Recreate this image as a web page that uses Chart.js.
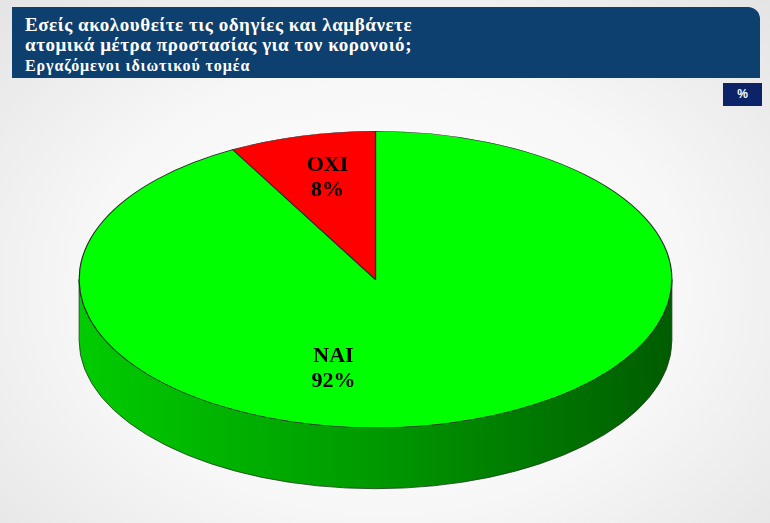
<!DOCTYPE html>
<html>
<head>
<meta charset="utf-8">
<script src="https://cdn.jsdelivr.net/npm/chart.js@4"></script>
<style>
  html, body { margin: 0; padding: 0; }
  body {
    width: 770px; height: 523px; position: relative; overflow: hidden;
    background: radial-gradient(ellipse at 50% 55%, #ffffff 0%, #f7f7f7 55%, #e4e4e4 100%);
    font-family: "Liberation Serif", "Times New Roman", serif;
  }
  #title {
    position: absolute; left: 12px; top: 7px; width: 748px; height: 71px;
    background: #0d3f6f; border-top-right-radius: 12px; box-sizing: border-box;
    padding: 8px 0 0 13px; color: #fff; font-weight: bold;
  }
  #title .l { font-size: 19px; line-height: 20px; letter-spacing: 0.55px; }
  #title .s { font-size: 16px; line-height: 22px; letter-spacing: 0.9px; }
  #pct {
    position: absolute; left: 723px; top: 83px; width: 39px; height: 23px;
    background: #0c2367; color: #fff; font: bold 12px "Liberation Sans", Arial, sans-serif;
    text-align: center; line-height: 23px;
  }
  #wrap { position: absolute; left: 0; top: 0; width: 770px; height: 523px; }
</style>
</head>
<body>
<div id="title">
  <div class="l">Εσείς ακολουθείτε τις οδηγίες και λαμβάνετε</div>
  <div class="l">ατομικά μέτρα προστασίας για τον κορονοιό;</div>
  <div class="s">Εργαζόμενοι ιδιωτικού τομέα</div>
</div>
<div id="pct">%</div>
<div id="wrap"><canvas id="pie"></canvas></div>
<script>
const labels = ["ΝΑΙ", "ΟΧΙ"];
const values = [92, 8];
const colors = ["#00ff00", "#ff0000"];

function shade(hex, f) {
  const n = parseInt(hex.slice(1), 16);
  const r = Math.round(((n >> 16) & 255) * f);
  const g = Math.round(((n >> 8) & 255) * f);
  const b = Math.round((n & 255) * f);
  return "rgb(" + r + "," + g + "," + b + ")";
}

// squashed pie with a visible side wall
const pie3d = {
  id: "pie3d",
  beforeDatasetsDraw(chart, args, opts) {
    const ctx = chart.ctx;
    const meta = chart.getDatasetMeta(0);
    const a0 = meta.data[0];
    const cx = a0.x, cy = a0.y;
    const ry = a0.outerRadius, rx = ry * opts.scaleX;
    const d = opts.depth;
    meta.data.forEach((arc, i) => {
      for (let k = -1; k <= 1; k++) {
        const s = Math.max(arc.startAngle + k * 2 * Math.PI, 0);
        const e = Math.min(arc.endAngle + k * 2 * Math.PI, Math.PI);
        if (e <= s) continue;
        const g = ctx.createLinearGradient(cx - rx, 0, cx + rx, 0);
        g.addColorStop(0, shade(colors[i], 0.8));
        g.addColorStop(0.5, shade(colors[i], 0.6));
        g.addColorStop(1, shade(colors[i], 0.36));
        ctx.beginPath();
        ctx.ellipse(cx, cy + d, rx, ry, 0, s, e);
        ctx.ellipse(cx, cy, rx, ry, 0, e, s, true);
        ctx.closePath();
        ctx.fillStyle = g;
        ctx.fill();
        ctx.lineWidth = 0.8;
        ctx.strokeStyle = "#1d3d1d";
        ctx.stroke();
      }
    });
    ctx.save();
    ctx.translate(cx, cy);
    ctx.scale(opts.scaleX, 1);
    ctx.translate(-cx, -cy);
  },
  afterDatasetsDraw(chart, args, opts) {
    const ctx = chart.ctx;
    ctx.restore();
    const meta = chart.getDatasetMeta(0);
    const a0 = meta.data[0];
    const ry = a0.outerRadius, rx = ry * opts.scaleX;
    ctx.fillStyle = "#000";
    ctx.font = "bold 22px 'Liberation Serif', 'Times New Roman', serif";
    ctx.textAlign = "center";
    ctx.textBaseline = "middle";
    meta.data.forEach((arc, i) => {
      const off = opts.labelOffsets[i];
      const x = arc.x + off[0] * rx;
      const y = arc.y + off[1] * ry;
      ctx.fillText(labels[i], x, y - 12);
      ctx.fillText(values[i] + "%", x, y + 13);
    });
  }
};

new Chart(document.getElementById("pie"), {
  type: "pie",
  data: {
    labels: labels,
    datasets: [{
      data: values,
      backgroundColor: colors,
      borderColor: "#2a2a2a",
      borderWidth: 0.6,
    }],
  },
  options: {
    responsive: true,
    maintainAspectRatio: false,
    animation: false,
    events: [],
    layout: { padding: { left: 79, right: 98, top: 131, bottom: 95 } },
    plugins: {
      legend: { display: false },
      tooltip: { enabled: false },
      pie3d: {
        scaleX: 2,
        depth: 61,
        labelOffsets: [[-0.142, 0.598], [-0.162, -0.69]],
      },
    },
  },
  plugins: [pie3d],
});
</script>
</body>
</html>
